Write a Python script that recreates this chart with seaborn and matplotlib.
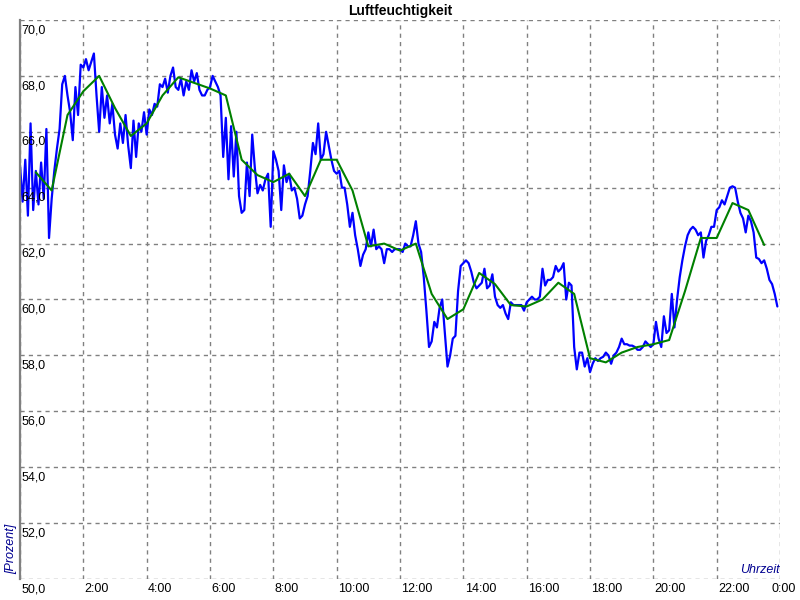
import matplotlib
matplotlib.use("Agg")
import matplotlib.pyplot as plt
import seaborn as sns
import pandas as pd
import numpy as np

sns.set_theme(style="white")
plt.rcParams["font.family"] = ["Liberation Sans", "DejaVu Sans"]

# relative Luftfeuchte [%], ein Messwert alle 5 Minuten ab 0:00
humidity = [
    64.8, 63.5, 65.0, 63.0, 66.3, 63.2, 64.6, 63.4, 64.9, 63.6, 66.1, 62.2,
    63.6, 64.6, 65.4, 66.1, 67.7, 68.0, 67.3, 66.7, 65.7, 67.6, 66.6, 68.4,
    68.3, 68.6, 68.2, 68.5, 68.8, 67.3, 66.0, 67.6, 66.5, 67.3, 66.3, 67.0,
    65.9, 65.4, 66.3, 65.6, 66.6, 65.5, 64.7, 66.4, 65.1, 66.3, 66.0, 66.7,
    65.9, 66.8, 66.6, 67.0, 66.9, 67.7, 67.6, 67.9, 67.4, 68.0, 68.3, 67.6,
    67.5, 67.9, 67.3, 67.8, 67.5, 68.2, 67.8, 68.1, 67.5, 67.3, 67.3, 67.5,
    67.6, 68.0, 67.8, 67.6, 67.3, 65.1, 66.5, 64.3, 66.2, 64.4, 66.0, 63.7,
    63.1, 63.2, 64.9, 63.7, 65.9, 64.7, 63.8, 64.1, 63.9, 64.3, 64.5, 62.6,
    65.3, 65.0, 64.6, 63.2, 64.8, 64.2, 64.5, 63.9, 64.0, 63.6, 62.9, 63.0,
    63.4, 63.7, 64.6, 65.6, 65.2, 66.3, 65.0, 65.2, 66.0, 65.5, 65.0, 64.6,
    64.5, 64.6, 64.0, 64.0, 63.4, 62.6, 63.1, 62.3, 61.8, 61.2, 61.6, 61.8,
    62.4, 61.9, 62.5, 61.8, 61.9, 61.8, 61.3, 61.8, 61.8, 61.7, 61.8, 61.8,
    61.8, 61.7, 62.0, 61.9, 61.9, 62.3, 62.8, 62.0, 61.7, 60.8, 59.6, 58.3,
    58.5, 59.2, 59.0, 59.7, 60.0, 58.8, 57.6, 58.0, 58.6, 58.7, 60.3, 61.2,
    61.3, 61.4, 61.3, 61.0, 60.6, 60.4, 60.5, 60.6, 61.1, 60.4, 60.5, 60.9,
    60.1, 59.8, 59.7, 59.8, 59.5, 59.3, 59.9, 59.8, 59.8, 59.8, 59.8, 59.6,
    59.9, 60.0, 60.1, 60.0, 60.0, 60.1, 61.1, 60.5, 60.7, 60.7, 60.8, 61.2,
    61.0, 61.1, 61.3, 60.0, 60.6, 60.5, 58.3, 57.5, 58.1, 58.1, 57.6, 57.9,
    57.4, 57.7, 57.9, 57.8, 57.9, 57.95, 58.1, 58.0, 57.7, 58.0, 58.1, 58.3,
    58.6, 58.4, 58.4, 58.35, 58.35, 58.3, 58.2, 58.2, 58.3, 58.5, 58.4, 58.3,
    58.4, 59.2, 58.6, 58.3, 59.4, 58.8, 58.9, 60.2, 59.0, 60.0, 60.8, 61.4,
    61.9, 62.3, 62.5, 62.6, 62.5, 62.3, 62.4, 61.5, 62.1, 62.3, 62.6, 62.6,
    63.2, 63.3, 63.55, 63.4, 63.7, 64.0, 64.05, 64.0, 63.5, 63.1, 62.9, 62.4,
    63.0, 62.8, 62.4, 61.5, 61.45, 61.3, 61.4, 61.1, 60.7, 60.55, 60.2, 59.75,
]
step_min = 5

# Mittelwert, alle 30 Minuten ab 0:30
humidity_avg = [
    64.55, 63.9, 66.6, 67.45, 68.0, 66.85, 65.85, 66.3, 67.3, 67.95,
    67.75, 67.55, 67.3, 65.0, 64.45, 64.2, 64.5, 63.7, 65.0, 65.0,
    63.9, 61.9, 62.0, 61.75, 62.0, 60.2, 59.3, 59.65, 60.95, 60.55,
    59.8, 59.75, 60.0, 60.6, 60.2, 57.9, 57.75, 58.1, 58.3, 58.4,
    58.55, 60.3, 62.2, 62.2, 63.45, 63.2, 61.95,
]
avg_start_h = 0.5
avg_step_h = 0.5

y_ticks = [50, 52, 54, 56, 58, 60, 62, 64, 66, 68, 70]
x_ticks = [2, 4, 6, 8, 10, 12, 14, 16, 18, 20, 22, 24]
x_labels = ["2:00", "4:00", "6:00", "8:00", "10:00", "12:00",
            "14:00", "16:00", "18:00", "20:00", "22:00", "0:00"]

df = pd.DataFrame({
    "stunde": np.arange(len(humidity)) * step_min / 60,
    "rh": humidity,
})
df_avg = pd.DataFrame({
    "stunde": avg_start_h + np.arange(len(humidity_avg)) * avg_step_h,
    "rh": humidity_avg,
})

fig = plt.figure(figsize=(8, 6), dpi=100)
fig.patch.set_facecolor("white")
ax = fig.add_axes([0.025, 0.035, 0.95, 0.9317])
ax.set_facecolor("white")

sns.lineplot(data=df, x="stunde", y="rh", color="#0000ff",
             linewidth=1.6, ax=ax)
sns.lineplot(data=df_avg, x="stunde", y="rh", color="#008000",
             linewidth=1.5, ax=ax)

ax.set_xlim(0, 24)
ax.set_ylim(50, 70)
ax.set_xticks([0] + x_ticks)
ax.set_yticks(y_ticks)
ax.grid(True, color="#808080", linestyle=(0, (3, 3)), linewidth=1)
ax.tick_params(labelbottom=False, labelleft=False, length=0)
ax.set_xlabel("")
ax.set_ylabel("")
for side in ["top", "right", "bottom"]:
    ax.spines[side].set_visible(False)
ax.spines["left"].set_color("#808080")
ax.spines["left"].set_linewidth(1.6)

# Achsbeschriftungen innerhalb der Zeichenfläche
for v in y_ticks:
    ax.annotate(f"{v},0", xy=(0, v), xycoords=("axes fraction", "data"),
                xytext=(1, -3), textcoords="offset points",
                ha="left", va="top", fontsize=9, color="black",
                annotation_clip=False)
for h, lab in zip(x_ticks, x_labels):
    # letzte Beschriftung etwas nach links, damit sie ins Bild passt
    dx = 1 if h < 24 else -6
    ax.annotate(lab, xy=(h, 0), xycoords=("data", "axes fraction"),
                xytext=(dx, -3), textcoords="offset points",
                ha="left", va="top", fontsize=9, color="black",
                annotation_clip=False)

fig.text(0.5, 1 - 11 / 600, "Luftfeuchtigkeit", ha="center", va="center",
         fontsize=10, fontweight="bold", color="black")
fig.text(11 / 800, 1 - 549 / 600, "[Prozent]", rotation=90, ha="center",
         va="center", fontsize=9, style="italic", color="#000090")
fig.text(780 / 800, 1 - 570 / 600, "Uhrzeit", ha="right", va="center",
         fontsize=9, style="italic", color="#000090")

fig.savefig("out.png", dpi=100, facecolor="white")
